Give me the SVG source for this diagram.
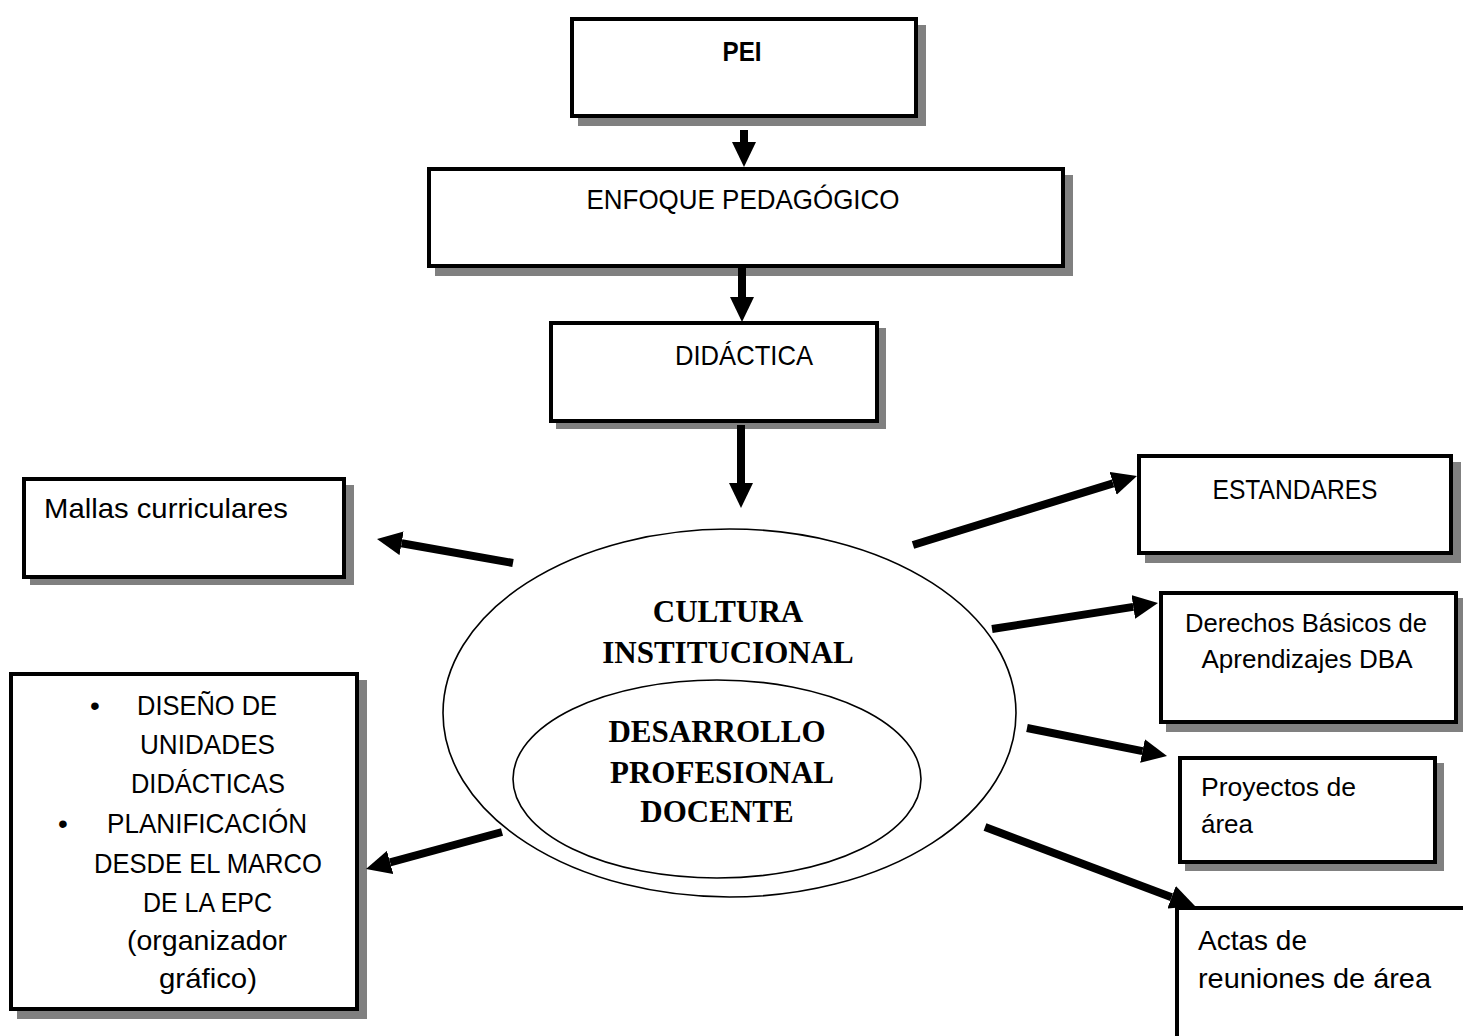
<svg xmlns="http://www.w3.org/2000/svg" width="1463" height="1036" viewBox="0 0 1463 1036">
  <defs>
    <style>
      .shadow { fill: #808080; }
      .box { fill: #ffffff; stroke: #000000; stroke-width: 4; }
      .ring { fill: #ffffff; stroke: #000000; stroke-width: 1.6; }
      .lbl { font-family: "Liberation Sans", Arial, sans-serif; font-size: 28px; fill: #000000; }
      .sm { font-size: 26px; }
      .bold { font-weight: bold; }
      .mid { text-anchor: middle; }
      .serif { font-family: "Liberation Serif", "Times New Roman", serif; font-weight: bold; font-size: 31px; fill: #000000; text-anchor: middle; }
      .conn { stroke: #000000; stroke-width: 8; fill: none; marker-end: url(#head); }
    </style>
    <marker id="head" markerUnits="userSpaceOnUse" markerWidth="25" markerHeight="24" viewBox="0 0 25 24" refX="0" refY="12" orient="auto">
      <path d="M0,0 L25,12 L0,24 Z" fill="#000000"/>
    </marker>
  </defs>

  <rect width="1463" height="1036" fill="#ffffff"/>

  <!-- central ellipses -->
  <g id="cultura">
    <ellipse class="ring" cx="729.5" cy="713" rx="286.5" ry="184"/>
    <text class="serif" x="728" y="622">CULTURA</text>
    <text class="serif" x="728" y="663">INSTITUCIONAL</text>
  </g>
  <g id="desarrollo">
    <ellipse class="ring" cx="717" cy="779" rx="204" ry="99"/>
    <text class="serif" x="717" y="742">DESARROLLO</text>
    <text class="serif" x="722" y="783">PROFESIONAL</text>
    <text class="serif" x="717" y="822">DOCENTE</text>
  </g>

  <!-- boxes -->
  <g id="pei">
    <rect class="shadow" x="578" y="25" width="348" height="101"/>
    <rect class="box" x="572" y="19" width="344" height="97"/>
    <text class="lbl bold mid" x="742" y="61" textLength="39" lengthAdjust="spacingAndGlyphs">PEI</text>
  </g>
  <g id="enfoque">
    <rect class="shadow" x="435" y="175" width="638" height="101"/>
    <rect class="box" x="429" y="169" width="634" height="97"/>
    <text class="lbl mid" x="743" y="209" textLength="313" lengthAdjust="spacingAndGlyphs">ENFOQUE PEDAGÓGICO</text>
  </g>
  <g id="didactica">
    <rect class="shadow" x="556" y="328" width="330" height="101"/>
    <rect class="box" x="551" y="323" width="326" height="98"/>
    <text class="lbl mid" x="744" y="365" textLength="138" lengthAdjust="spacingAndGlyphs">DIDÁCTICA</text>
  </g>
  <g id="mallas">
    <rect class="shadow" x="30" y="485" width="324" height="100"/>
    <rect class="box" x="24" y="479" width="320" height="98"/>
    <text class="lbl" x="44" y="518" textLength="244" lengthAdjust="spacingAndGlyphs">Mallas curriculares</text>
  </g>
  <g id="estandares">
    <rect class="shadow" x="1145" y="462" width="316" height="101"/>
    <rect class="box" x="1139" y="456" width="312" height="97"/>
    <text class="lbl mid" x="1295" y="499" textLength="165" lengthAdjust="spacingAndGlyphs">ESTANDARES</text>
  </g>
  <g id="dba">
    <rect class="shadow" x="1166" y="598" width="299" height="134"/>
    <rect class="box" x="1161" y="593" width="295" height="129"/>
    <text class="lbl sm mid" x="1306" y="632" textLength="242" lengthAdjust="spacingAndGlyphs">Derechos Básicos de</text>
    <text class="lbl sm mid" x="1307" y="668" textLength="211" lengthAdjust="spacingAndGlyphs">Aprendizajes DBA</text>
  </g>
  <g id="proyectos">
    <rect class="shadow" x="1185" y="763" width="259" height="108"/>
    <rect class="box" x="1180" y="758" width="255" height="104"/>
    <text class="lbl sm" x="1201" y="796" textLength="155" lengthAdjust="spacingAndGlyphs">Proyectos de</text>
    <text class="lbl sm" x="1201" y="833" textLength="52" lengthAdjust="spacingAndGlyphs">área</text>
  </g>
  <g id="actas">
    <rect class="box" x="1177" y="908" width="300" height="140"/>
    <text class="lbl" x="1198" y="950" textLength="109" lengthAdjust="spacingAndGlyphs">Actas de</text>
    <text class="lbl" x="1198" y="988" textLength="233" lengthAdjust="spacingAndGlyphs">reuniones de área</text>
  </g>
  <g id="diseno">
    <rect class="shadow" x="17" y="680" width="350" height="339"/>
    <rect class="box" x="11" y="674" width="346" height="335"/>
    <text class="lbl mid" x="95" y="715">•</text>
    <text class="lbl mid" x="63" y="833">•</text>
    <text class="lbl mid" x="207" y="715" textLength="140" lengthAdjust="spacingAndGlyphs">DISEÑO DE</text>
    <text class="lbl mid" x="207.5" y="754" textLength="135" lengthAdjust="spacingAndGlyphs">UNIDADES</text>
    <text class="lbl mid" x="208" y="793" textLength="154" lengthAdjust="spacingAndGlyphs">DIDÁCTICAS</text>
    <text class="lbl mid" x="207" y="833" textLength="200" lengthAdjust="spacingAndGlyphs">PLANIFICACIÓN</text>
    <text class="lbl mid" x="208" y="873" textLength="228" lengthAdjust="spacingAndGlyphs">DESDE EL MARCO</text>
    <text class="lbl mid" x="207.5" y="912" textLength="129" lengthAdjust="spacingAndGlyphs">DE LA EPC</text>
    <text class="lbl mid" x="207" y="950" textLength="160" lengthAdjust="spacingAndGlyphs">(organizador</text>
    <text class="lbl mid" x="208" y="988" textLength="98" lengthAdjust="spacingAndGlyphs">gráfico)</text>
  </g>

  <!-- connectors: shaft ends where the arrowhead begins -->
  <g id="connectors">
    <line class="conn" x1="744" y1="130" x2="744" y2="142"/>
    <line class="conn" x1="742" y1="264" x2="742" y2="297"/>
    <line class="conn" x1="741" y1="425" x2="741" y2="483"/>
    <line class="conn" x1="513" y1="563" x2="401.6" y2="543.3"/>
    <line class="conn" x1="913" y1="545" x2="1113.1" y2="483.4"/>
    <line class="conn" x1="992" y1="629" x2="1133.3" y2="606.9"/>
    <line class="conn" x1="1027" y1="728" x2="1142.5" y2="751.1"/>
    <line class="conn" x1="985" y1="827" x2="1171.6" y2="897.2"/>
    <line class="conn" x1="502" y1="832" x2="390.1" y2="862.4"/>
  </g>
</svg>
